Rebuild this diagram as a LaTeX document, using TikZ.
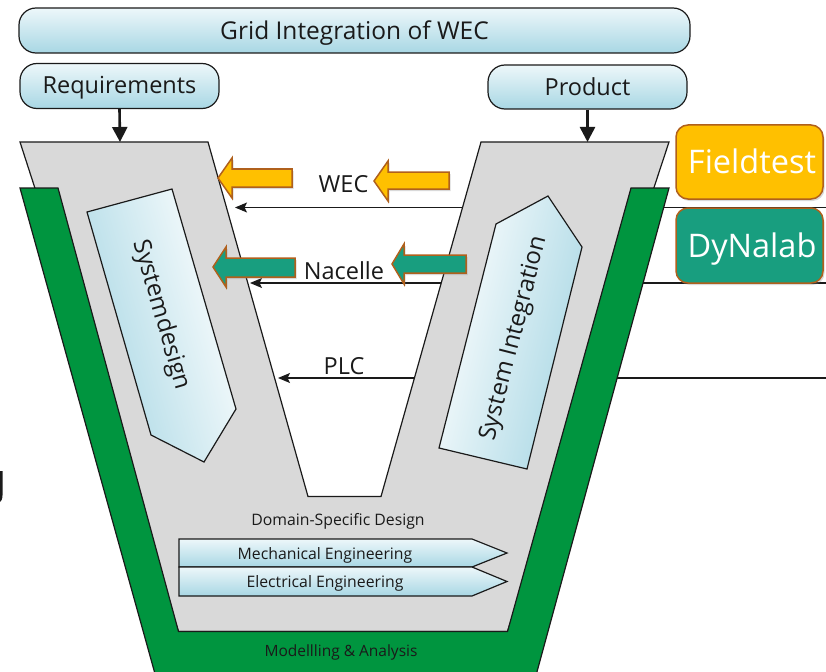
\documentclass[tikz,border=0pt]{standalone}
\usepackage{fontspec}
\setmainfont{Open Sans}
\usetikzlibrary{arrows.meta,shadows}

\definecolor{vgray}{HTML}{D9D9D9}
\definecolor{vgreen}{HTML}{00953F}
\definecolor{ltop}{HTML}{EDF7FA}
\definecolor{lbot}{HTML}{A8D7E4}
\definecolor{amber}{HTML}{FFC000}
\definecolor{labteal}{HTML}{189E7F}
\definecolor{rim}{HTML}{B0601C}
\definecolor{ink}{HTML}{1A1A1A}

\newcommand{\fs}[1]{\fontsize{#1}{#1}\selectfont}

\tikzset{
  capsule/.style={draw=ink, line width=1.2pt, rounded corners=17pt,
    top color=ltop, bottom color=lbot, inner sep=0pt, text=ink, font=\fs{23.5}},
  feed/.style={draw=ink, line width=1.1pt,
    -{Stealth[length=12pt,width=10pt,inset=2.5pt]}},
  drop/.style={draw=ink, line width=2.6pt, -{Triangle[length=15pt,width=15pt]}},
  outline/.style={draw=ink, line width=1.2pt},
  chevron/.style={outline, top color=ltop, bottom color=lbot},
  lbl/.style={text=ink, inner sep=0pt, anchor=base},
  ambarrow/.style={fill=amber, draw=rim, line width=1.5pt,
    drop shadow={shadow xshift=1.5pt, shadow yshift=-2pt, opacity=0.3}},
  tealarrow/.style={fill=labteal, draw=rim, line width=1.5pt,
    drop shadow={shadow xshift=1.5pt, shadow yshift=-2pt, opacity=0.3}},
  lab/.style={draw=rim, line width=1.5pt, rounded corners=12pt, text=white,
    minimum width=147pt, minimum height=74pt, inner sep=0pt, font=\fs{32.5},
    text height=28pt, text depth=4pt,
    drop shadow={shadow xshift=1.5pt, shadow yshift=-2pt, opacity=0.3}}
}

\begin{document}
\begin{tikzpicture}[x=1pt,y=-1pt]
\useasboundingbox (0,0) rectangle (826,671);

% feedback lines from the test benches back to the design side
\coordinate (wecR) at (826,207.5);
\coordinate (wecL) at (235,207.5);
\coordinate (nacR) at (826,283);
\coordinate (nacL) at (250,283);
\coordinate (plcR) at (826,378);
\coordinate (plcL) at (278,378);
\draw[feed] (wecR) -- (wecL);
\draw[feed] (nacR) -- (nacL);
\draw[feed] (plcR) -- (plcL);

% grey V
\path[outline, fill=vgray] (20,142) -- (208,142) -- (308,496.5) -- (381,496.5)
  -- (481,142) -- (669,142) -- (507.5,631.5) -- (178.5,631.5) -- cycle;

% green U underneath (modelling & analysis)
\path[outline, fill=vgreen] (20,188) -- (58,188) -- (178.5,631.5) -- (507.5,631.5)
  -- (631,188) -- (669,188) -- (532,690) -- (159.5,690) -- cycle;

% Systemdesign pentagon
\path[outline, top color=lbot, bottom color=white, shading angle=106]
  (87,212) -- (172,189) -- (236,409) -- (204,462) -- (151,435) -- cycle;
\node[text=ink, rotate=-73.8, font=\fs{24}] (sd) at (161,315) {Systemdesign};

% System Integration pentagon
\path[outline, top color=lbot, bottom color=white, shading angle=-104]
  (439,448) -- (527,469) -- (582,247) -- (548,196) -- (496,224) -- cycle;
\node[text=ink, rotate=75.7, font=\fs{24}] (si) at (514.5,338.5) {System Integration};

% domain-specific chevrons
\path[chevron] (179,539) -- (472,539) -- (507,553) -- (472,567) -- (179,567) -- cycle;
\path[chevron] (179,567) -- (472,567) -- (507,581.5) -- (472,596) -- (179,596) -- cycle;
\node[lbl, font=\fs{15.8}] (dsd) at (338,525) {Domain-Specific Design};
\node[lbl, font=\fs{15.8}] (mech) at (325,559) {Mechanical Engineering};
\node[lbl, font=\fs{15.8}] (elec) at (325,587) {Electrical Engineering};
\node[lbl, font=\fs{15.5}] (mod) at (341,656) {Modellling \& Analysis};

% level labels
\node[lbl, font=\fs{23.5}] (wec) at (343.5,193) {WEC};
\node[lbl, font=\fs{23.5}] (nac) at (344,279) {Nacelle};
\node[lbl, font=\fs{23.5}] (plc) at (344,374) {PLC};

% header boxes
\node[capsule, minimum width=671pt, minimum height=45pt, font=\fs{24.5},
  text height=21pt, text depth=2pt] (title) at (354.5,30.5) {Grid Integration of WEC};
\node[capsule, minimum width=199pt, minimum height=45pt,
  text height=18pt, text depth=3.4pt] (req) at (119.5,86) {Requirements};
\node[capsule, minimum width=199pt, minimum height=44pt,
  text height=20pt, text depth=2.6pt] (prod) at (587.5,87) {Product};

\coordinate (vL) at (120,142);
\coordinate (vR) at (587.5,142);
\draw[drop] (req.south) -- (vL);
\draw[drop] (prod.south) -- (vR);

% block arrows
\path[ambarrow] (218,178) -- (232,158) -- (232,169) -- (292,169) -- (292,187) -- (232,187) -- (232,198) -- cycle;
\path[ambarrow] (374,181) -- (388,161) -- (388,172) -- (449,172) -- (449,189) -- (388,189) -- (388,201) -- cycle;
\path[tealarrow] (213,267) -- (226,247) -- (226,258) -- (295,258) -- (295,277) -- (226,277) -- (226,287) -- cycle;
\path[tealarrow] (392,264) -- (404,244) -- (404,255) -- (466,255) -- (466,273) -- (404,273) -- (404,284) -- cycle;

% test benches
\node[lab, fill=amber] (ft) at (749.5,162) {\hspace{5pt}Fieldtest};
\node[lab, fill=labteal, minimum height=75pt] (dl) at (749.5,245.5) {\hspace{5pt}DyNalab};

% glyph fragment at the left margin
\draw[line width=2.6pt, draw=ink] (1.3,471) -- (1.3,494) .. controls (1.3,499) and (0,501) .. (-2,502);
\end{tikzpicture}
\end{document}
